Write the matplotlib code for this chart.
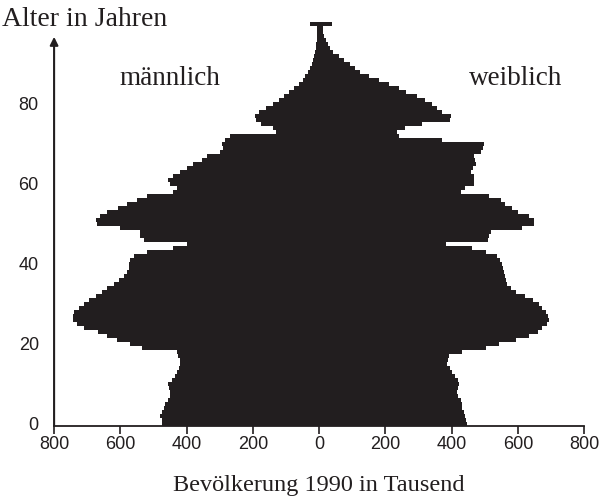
import matplotlib.pyplot as plt
import numpy as np

# Alter 0..100 (100 = 100 und aelter), Werte in Tausend
ages = list(range(0, 101))

maennlich = [
    475, 473, 480, 475, 468, 464, 455, 450, 450, 452,   # 0-9
    455, 445, 435, 428, 422, 419, 420, 425, 428, 535,   # 10-19
    570, 610, 640, 666, 711, 730, 744, 742, 741, 725,   # 20-29
    711, 695, 675, 655, 639, 620, 605, 590, 580, 575,   # 30-39
    575, 570, 560, 519, 440, 400, 530, 540, 540, 600,   # 40-49
    670, 675, 660, 640, 608, 580, 550, 519, 440, 428,   # 50-59
    450, 455, 440, 420, 400, 380, 355, 338, 300, 290,   # 60-69
    293, 285, 270, 130, 140, 175, 190, 195, 180, 160,   # 70-79
    140, 120, 105, 90, 75, 62, 50, 42, 35, 28,          # 80-89
    22, 18, 15, 12, 10, 8, 7, 6, 5, 5,                  # 90-99
    29,                                                 # 100
]

weiblich = [
    445, 443, 440, 437, 432, 430, 427, 420, 417, 418,   # 0-9
    422, 420, 410, 401, 395, 387, 390, 392, 432, 504,   # 10-19
    543, 594, 633, 660, 672, 687, 693, 690, 684, 672,   # 20-29
    663, 645, 620, 594, 580, 567, 565, 560, 558, 555,   # 30-39
    552, 545, 537, 504, 462, 383, 510, 513, 519, 612,   # 40-49
    648, 648, 633, 600, 582, 560, 549, 513, 428, 440,   # 50-59
    468, 468, 468, 459, 465, 474, 470, 468, 490, 495,   # 60-69
    498, 372, 242, 236, 260, 311, 395, 398, 371, 356,   # 70-79
    341, 320, 295, 263, 240, 212, 180, 150, 122, 108,   # 80-89
    92, 75, 60, 41, 33, 26, 20, 16, 13, 11,             # 90-99
    38,                                                 # 100
]

xticks = [-800, -600, -400, -200, 0, 200, 400, 600, 800]
xticklabels = ['800', '600', '400', '200', '0', '200', '400', '600', '800']
yticks = [0, 20, 40, 60, 80]

ink = '#221e1f'
serif = 'Liberation Serif'
sans = 'Liberation Sans'

fig = plt.figure(figsize=(6.01, 5.01), dpi=100)
ax = fig.add_axes([0.09, 0.150, 0.882, 0.814])

ax.barh(ages, [-v for v in maennlich], height=1.0, color=ink, linewidth=0)
ax.barh(ages, weiblich, height=1.0, color=ink, linewidth=0)

ax.set_xlim(-800, 800)
ax.set_ylim(-0.5, 101.5)

for s in ['top', 'right', 'left']:
    ax.spines[s].set_visible(False)
ax.spines['bottom'].set_linewidth(1.3)
ax.spines['bottom'].set_color(ink)

ax.set_xticks(xticks)
ax.set_xticklabels(xticklabels, fontfamily=sans, fontsize=13)
ax.set_yticks(yticks)
ax.set_yticklabels([str(t) for t in yticks], fontfamily=sans, fontsize=13)
ax.tick_params(axis='x', direction='out', length=6, width=1.2, color=ink, pad=1, labelcolor=ink)
ax.tick_params(axis='y', length=0, pad=11, labelcolor=ink)

# y-Achse als Pfeil
ax.annotate('', xy=(-800, 96.8), xytext=(-800, -0.5),
            arrowprops=dict(arrowstyle='-|>', color=ink, lw=1.5, mutation_scale=12,
                            shrinkA=0, shrinkB=0),
            annotation_clip=False)

fig.text(0.004, 0.962, 'Alter in Jahren', fontfamily=serif, fontsize=20,
         color=ink, ha='left', va='center')
ax.text(-450, 86.3, 'männlich', fontfamily=serif, fontsize=19.5, color=ink,
        ha='center', va='center')
ax.text(592, 86.3, 'weiblich', fontfamily=serif, fontsize=19.5, color=ink,
        ha='center', va='center')
ax.set_xlabel('Bevölkerung 1990 in Tausend', fontfamily=serif, fontsize=17.5,
              color=ink, labelpad=16)

fig.savefig('out.png', dpi=100)
